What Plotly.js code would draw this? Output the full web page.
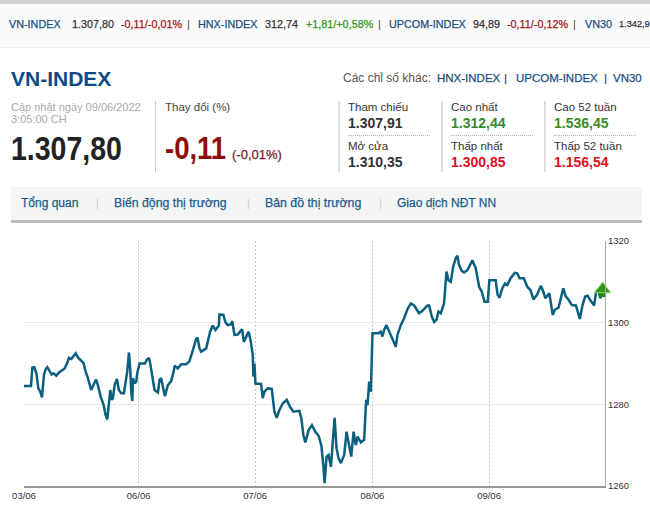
<!DOCTYPE html>
<html><head><meta charset="utf-8">
<script src="https://cdn.plot.ly/plotly-3.0.1.min.js"></script>
<style>
html,body{margin:0;padding:0;background:#fff;overflow:hidden}
#page{position:relative;width:650px;height:513px;overflow:hidden;font-family:"Liberation Sans",Arial,sans-serif}
#chart{position:absolute;left:0;top:0;width:650px;height:513px}
.t{position:absolute;white-space:pre;height:20px;line-height:20px}
.b{position:absolute}
</style></head><body>
<div id="page"><div id="chrome"></div><div id="chart"></div></div>
<script>
// ---- chart data ----
const sessionLabels = ["03/06","06/06","07/06","08/06","09/06"];
const sessionStarts = [0,0.984,1.985,2.993,3.994,4.99];
const yTicks = [1260,1280,1300,1320];
const sessionTime = [0,.061,.073,.090,.108,.125,.142,.157,.174,.189,.203,.224,.241,.259,.282,.305,.326,.355,.381,.392,.413,.427,.451,.471,.5,.520,.538,.558,.587,.608,.628,.645,.669,.695,.712,.727,.744,.753,.765,.776,.791,.811,.828,.849,.872,.887,.901,.916,.927,.936,.945,.951,.965,.980,.988,
1.009,1.054,1.071,1.089,1.1,1.117,1.137,1.166,1.18,1.194,1.209,1.226,1.251,1.28,1.294,1.311,1.337,1.366,1.409,1.437,1.466,1.494,1.506,1.523,1.537,1.58,1.614,1.637,1.66,1.689,1.694,
1.728,1.745,1.765,1.794,1.803,1.823,1.851,1.871,1.888,1.903,1.923,1.945,1.963,1.98,1.985,1.994,
2.003,2.051,2.065,2.079,2.108,2.142,2.164,2.184,2.207,2.235,2.269,2.297,2.326,2.377,2.394,2.411,2.428,2.456,2.484,2.513,2.541,2.564,2.581,2.592,2.609,2.626,2.646,2.666,2.677,2.694,2.711,2.731,2.759,2.779,2.796,2.819,2.839,2.858,2.873,2.901,2.929,2.938,2.946,2.958,2.972,2.986,2.994,
3.0,3.051,3.071,3.086,3.1,3.12,3.143,3.171,3.2,3.214,3.243,3.271,3.3,3.329,3.357,3.4,3.429,3.471,3.486,3.509,3.529,3.549,3.566,3.586,3.614,3.635,3.652,3.672,3.692,3.715,3.729,3.743,3.766,3.786,3.815,3.857,3.886,3.915,3.938,3.961,3.989,
4.003,4.057,4.074,4.091,4.114,4.137,4.157,4.186,4.223,4.243,4.263,4.3,4.329,4.357,4.383,4.414,4.446,4.463,4.486,4.52,4.549,4.566,4.6,4.62,4.64,4.663,4.686,4.714,4.749,4.783,4.806,4.829,4.851,4.871,4.906,4.923,4.943,4.96,4.971,4.98];
const indexValue = [1284.5,1284.5,1289.0,1289.1,1287.6,1283.9,1283.1,1281.7,1287.2,1288.6,1289.1,1288.0,1287.3,1287.6,1287.0,1287.8,1288.3,1288.8,1290.4,1291.4,1291.1,1291.7,1292.5,1291.5,1290.6,1290.1,1288.0,1286.4,1283.5,1284.7,1286.1,1284.7,1281.9,1279.8,1277.4,1276.3,1280.7,1283.5,1281.1,1281.5,1284.7,1286.2,1283.5,1282.7,1282.7,1285.6,1288.0,1292.7,1288.8,1283.1,1280.8,1286.4,1285.1,1285.6,1287.6,
1290.0,1290.0,1290.9,1291.4,1290.0,1286.4,1283.5,1282.9,1286.0,1286.4,1284.3,1282.0,1284.7,1285.7,1287.2,1289.5,1288.8,1289.8,1289.8,1290.6,1293.3,1296.0,1296.3,1293.7,1292.9,1293.7,1297.8,1299.3,1298.2,1299.3,1302.0,
1301.9,1300.1,1299.4,1299.6,1300.4,1297.0,1297.1,1297.8,1298.4,1295.3,1296.6,1297.8,1295.3,1292.1,1286.8,1290.0,
1285.1,1285.0,1281.5,1283.1,1283.9,1283.8,1278.2,1276.7,1278.6,1280.2,1281.1,1279.4,1278.2,1278.4,1276.6,1272.5,1270.7,1273.7,1274.9,1273.3,1272.3,1270.0,1265.1,1260.7,1267.2,1267.6,1264.7,1271.7,1276.7,1269.2,1266.8,1265.6,1267.6,1273.3,1270.9,1267.2,1273.3,1270.0,1272.1,1270.7,1271.3,1275.8,1281.1,1279.8,1285.6,1283.1,1290.4,
1297.4,1297.4,1297.8,1296.6,1298.2,1299.4,1297.8,1295.8,1294.1,1297.0,1299.4,1301.1,1303.3,1304.7,1304.2,1302.3,1302.9,1304.2,1304.2,1301.5,1300.2,1300.7,1302.7,1302.3,1304.7,1312.5,1310.4,1310.0,1313.7,1315.8,1316.4,1314.1,1312.7,1312.3,1312.9,1315.3,1313.3,1308.8,1307.6,1305.1,1305.1,
1310.4,1310.4,1306.8,1306.1,1308.4,1309.6,1309.2,1310.9,1312.2,1312.1,1310.9,1310.9,1308.8,1308.0,1305.7,1306.8,1309.0,1308.0,1306.0,1307.2,1301.9,1303.1,1303.7,1306.4,1308.4,1306.4,1305.6,1304.3,1304.2,1300.9,1304.3,1306.4,1306.6,1305.6,1304.2,1307.6,1308.0,1306.0,1307.2,1307.8];

// ---- page text ----
const tickerNames = ["VN-INDEX","HNX-INDEX","UPCOM-INDEX","VN30"];
const tickerPrices = ["1.307,80","312,74","94,89","1.342,9"];
const tickerChanges = ["-0,11/-0,01%","+1,81/+0,58%","-0,11/-0,12%"];
const otherIndexes = ["HNX-INDEX","UPCOM-INDEX","VN30"];
const statLabels = ["Tham chiếu","Cao nhất","Cao 52 tuần","Mở cửa","Thấp nhất","Thấp 52 tuần"];
const statValues = ["1.307,91","1.312,44","1.536,45","1.310,35","1.300,85","1.156,54"];
const tabLabels = ["Tổng quan","Biến động thị trường","Bản đồ thị trường","Giao dịch NĐT NN"];

const chrome = document.getElementById('chrome');
function box(x,y,w,h,css){const d=document.createElement('div');d.className='b';
  d.style.cssText=`left:${x}px;top:${y}px;width:${w}px;height:${h}px;${css}`;chrome.appendChild(d);}
function txt(s,x,y,size,color,bold,extra){const d=document.createElement('div');d.className='t';d.textContent=s;
  d.style.cssText=`left:${x}px;top:${y-10}px;font-size:${size}px;color:${color};font-weight:${bold?'bold':'normal'};${extra||''}`;chrome.appendChild(d);}
const soft='-webkit-text-stroke:.25px;';
const tall='transform:scaleY(1.14);transform-origin:left center;';
const BLUE='#1c4f80', RED='#a5141a', GREEN='#2f9a14';

box(0,0,650,4,'background:#cfcfcf');
box(0,4,650,43,'background:#fafafa;border-bottom:1px solid #eee');
[9,198,389,585].forEach((x,i)=>txt(tickerNames[i],x,24,10.8,BLUE,false,soft));
[72,265,473,619].forEach((x,i)=>txt(tickerPrices[i],x,24,i==3?9.2:10.8,'#333',false,soft));
[121,306,507].forEach((x,i)=>txt(tickerChanges[i],x,24,10.8,i==1?GREEN:RED,false,soft));
[187,378,573].forEach(x=>txt('|',x,24,10.8,'#444'));

txt('VN-INDEX',11,79,21,'#0d4a87',true);
txt('Các chỉ số khác:',343,78,12,'#555');
[437,516,613].forEach((x,i)=>txt(otherIndexes[i],x,78,11.5,BLUE,false,soft));
[504,604].forEach(x=>txt('|',x,78,11.5,BLUE,false,soft));

txt('Cập nhật ngày 09/06/2022',11,107,11,'#aaa');
txt('3:05:00 CH',11,118.5,11,'#aaa');
txt('1.307,80',11,149,28.5,'#222',true,tall);
box(155,101,1,71,'background:#ccc');
txt('Thay đổi (%)',165,107,11.5,'#444');
txt('-0,11',165,149,27.5,'#8f0c0c',true,tall);
txt('(-0,01%)',232,155,13,'#7a1430',false,soft);

[338,441,544].forEach(x=>box(x,101,2,71,'background:#ddd'));
const statX=[348,451,554];
const statColor=['#333','#3a8a2a','#3a8a2a','#333','#e0101a','#e0101a'];
statLabels.forEach((s,i)=>{const c=i%3,r=i<3?0:1;
  txt(s,statX[c],r?146:107,11.5,'#333');
  txt(statValues[i],statX[c],r?162:123,14,statColor[i],true);});
statX.forEach(x=>box(x,135,82,0,'border-top:1px dotted #bbb'));

box(11,187,631,33,'background:#f5f5f5');
box(11,220,631,3,'background:#bdbdbd');
[21,114,265,397].forEach((x,i)=>txt(tabLabels[i],x,203,(i==0||i==3)?12:12.3,'#1b5c8c',false,soft));
[96,247,379].forEach(x=>txt('|',x,203,11,'#ccc'));

// ---- plotly chart ----
const x = sessionTime.map(d=>{const i=Math.min(Math.floor(d),4);
  return sessionStarts[i]+(d-i)*(sessionStarts[i+1]-sessionStarts[i]);});
const lastX=x[x.length-1], lastY=indexValue[indexValue.length-1];
const fnt={family:'"Liberation Sans",Arial,sans-serif',size:9.5,color:'#333'};
Plotly.newPlot('chart',[
 {type:'scatter',mode:'lines',x:x,y:indexValue,line:{color:'#0b5f7f',width:2.5,shape:'linear'},hoverinfo:'skip'},
 {type:'scatter',mode:'markers',cliponaxis:false,x:[lastX],y:[lastY-0.7],marker:{symbol:'square',size:7,color:'#1f8a10',line:{width:0}},hoverinfo:'skip'},
 {type:'scatter',mode:'markers',cliponaxis:false,x:[lastX],y:[lastY+0.4],marker:{symbol:'triangle-up',size:14,color:'#2f9a14',line:{color:'#8fd070',width:1}},hoverinfo:'skip'}
],{
 width:650,height:513,showlegend:false,
 paper_bgcolor:'rgba(0,0,0,0)',plot_bgcolor:'rgba(0,0,0,0)',
 margin:{l:24.3,r:44.7,t:241,b:27,pad:0},
 xaxis:{range:[0,sessionStarts[5]],tickmode:'array',tickvals:sessionStarts.slice(0,5),ticktext:sessionLabels,
   showgrid:true,gridcolor:'#c4c4c4',griddash:'2px,2px',gridwidth:1,zeroline:false,
   showline:true,linecolor:'#999',linewidth:2,ticks:'',tickfont:fnt},
 yaxis:{range:[1260,1320],side:'right',tickmode:'array',tickvals:yTicks,
   showgrid:true,gridcolor:'#e8e8e8',gridwidth:1,zeroline:false,
   showline:true,linecolor:'#aaa',linewidth:1,ticks:'',tickfont:fnt}
},{displayModeBar:false,staticPlot:true});
</script></body></html>
